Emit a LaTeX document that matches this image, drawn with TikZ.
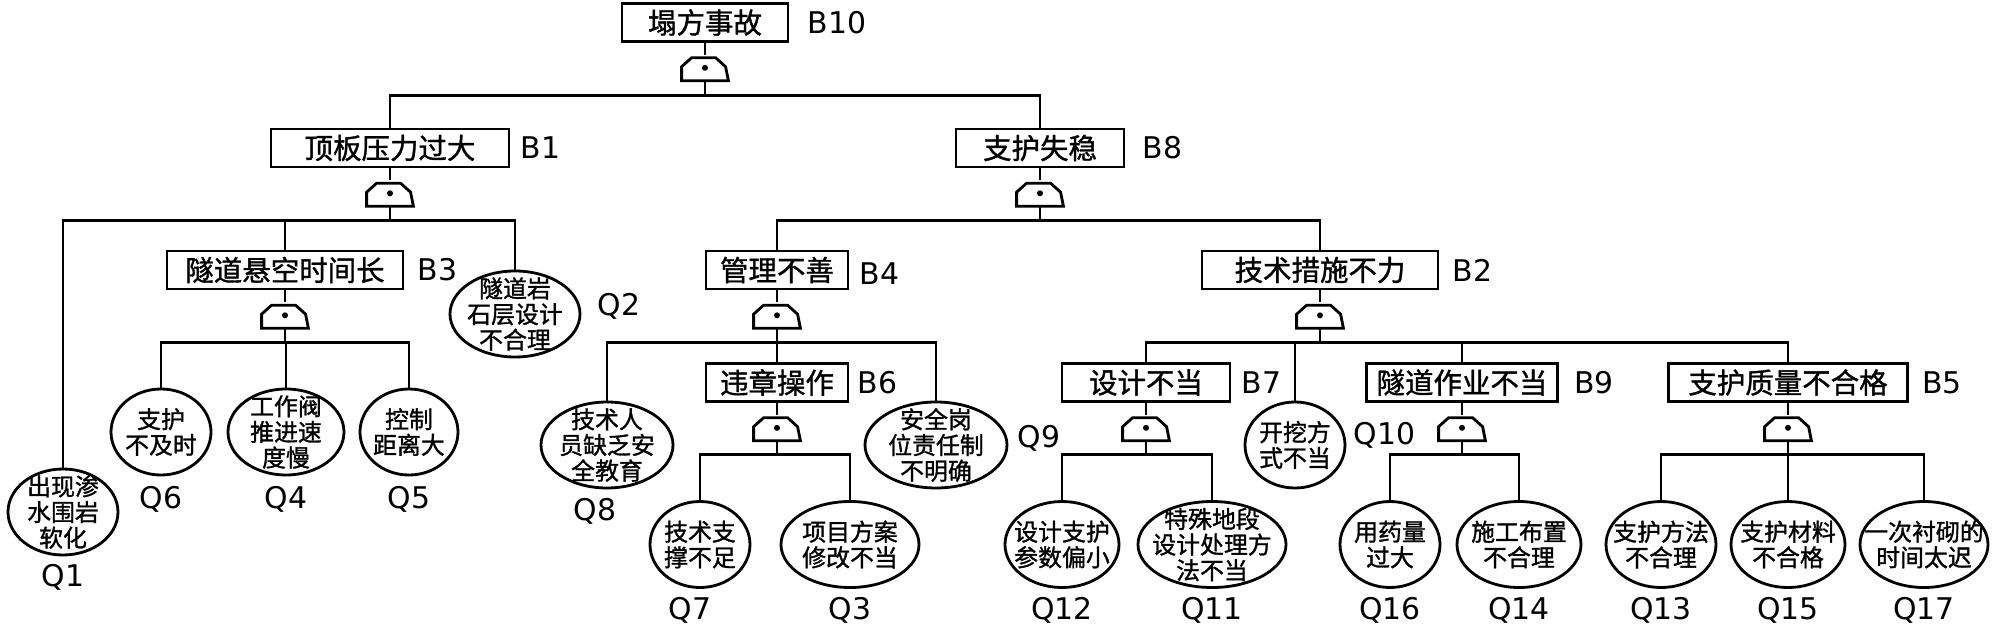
\documentclass[tikz,border=0pt]{standalone}
\usepackage{fontspec}
\setmainfont{DejaVu Sans}
\newfontfamily\cjk{Noto Sans CJK SC}[FakeBold=1.2]
\usetikzlibrary{%
  shapes,% wg. ellipse
  positioning% wg. " of "
}

\tikzset{
  evbox/.style={draw, rectangle, minimum height=0.38cm, inner sep=0pt,
    font=\cjk\fontsize{8.1}{9}\selectfont},
  basic/.style={draw, ellipse, minimum height=0.86cm, inner sep=0pt},
  ctext/.style={inner sep=0pt, align=center,
    font=\cjk\fontsize{6.8}{7.3}\selectfont},
  tag/.style={inner sep=0pt, font=\fontsize{8.5}{10}\selectfont},
  gatenode/.style={minimum width=0.44cm, minimum height=0.23cm, inner sep=0pt}
}

% and-gate below an event box
\newcommand{\andgate}[2]{%
  \node[gatenode, below=0.12cm of #2] (#1) {};
  \draw (#1.south west) -- ++(0,0.14) -- ++(0.1,0.09) -- ++(0.24,0)
    -- ++(0.1,-0.09) -- (#1.south east) -- cycle;
  \fill (#1) circle (0.03);
}

\begin{document}
\begin{tikzpicture}[thick]
\useasboundingbox (0,0) rectangle (20,-6.32);

% -------- top event
\node[evbox, minimum width=1.66cm] (top) at (7.05,-0.225) {塌方事故};
\node[tag, right=0.17cm of top] (ltop) {B10};
\andgate{g10}{top}
\draw (top.south) -- (g10.north);

% -------- level 1
\node[evbox, minimum width=2.38cm] (b1) at (3.90,-1.48) {顶板压力过大};
\node[tag, right=0.09cm of b1] (lb1) {B1};
\node[evbox, minimum width=1.68cm] (b8) at (10.40,-1.48) {支护失稳};
\node[tag, right=0.16cm of b8] (lb8) {B8};
\draw (g10.south) -- ++(0,-0.15) -| (b1.north);
\draw (g10.south) -- ++(0,-0.15) -| (b8.north);

\andgate{g1}{b1}
\andgate{g8}{b8}
\draw (b1.south) -- (g1.north);
\draw (b8.south) -- (g8.north);

% -------- under B1
\node[evbox, minimum width=2.36cm] (b3) at (2.85,-2.70) {隧道悬空时间长};
\node[tag, right=0.12cm of b3] (lb3) {B3};

\node[basic, minimum width=1.10cm] (q1) at (0.63,-5.12) {};
\node[ctext] (q1txt) at (q1) {出现渗\\水围岩\\软化};
\node[tag, below=0.07cm of q1] (q1lab) {Q1};

\node[basic, minimum width=1.30cm] (q2) at (5.15,-3.14) {};
\node[ctext] (q2txt) at (q2) {隧道岩\\石层设计\\不合理};
\node[tag, right=0.15cm of q2, yshift=0.08cm] (q2lab) {Q2};

\draw (g1.south) -- ++(0,-0.14) -| (q1.north);
\draw (g1.south) -- ++(0,-0.14) -| (b3.north);
\draw (g1.south) -- ++(0,-0.14) -| (q2.north);

% -------- under B3
\andgate{g3}{b3}
\draw (b3.south) -- (g3.north);

\node[basic, minimum width=1.00cm] (q6) at (1.61,-4.32) {};
\node[ctext] (q6txt) at (q6) {支护\\不及时};
\node[tag, below=0.09cm of q6] (q6lab) {Q6};

\node[basic, minimum width=1.16cm] (q4) at (2.86,-4.32) {};
\node[ctext] (q4txt) at (q4) {工作阀\\推进速\\度慢};
\node[tag, below=0.09cm of q4] (q4lab) {Q4};

\node[basic, minimum width=0.98cm] (q5) at (4.09,-4.32) {};
\node[ctext] (q5txt) at (q5) {控制\\距离大};
\node[tag, below=0.09cm of q5] (q5lab) {Q5};

\draw (g3.south) -- ++(0,-0.14) -| (q6.north);
\draw (g3.south) -- ++(0,-0.14) -| (q4.north);
\draw (g3.south) -- ++(0,-0.14) -| (q5.north);

% -------- under B8
\node[evbox, minimum width=1.42cm] (b4) at (7.77,-2.70) {管理不善};
\node[tag, right=0.09cm of b4, yshift=-0.04cm] (lb4) {B4};
\node[evbox, minimum width=2.36cm] (b2) at (13.20,-2.70) {技术措施不力};
\node[tag, right=0.12cm of b2] (lb2) {B2};
\draw (g8.south) -- ++(0,-0.14) -| (b4.north);
\draw (g8.south) -- ++(0,-0.14) -| (b2.north);

% -------- under B4
\andgate{g4}{b4}
\draw (b4.south) -- (g4.north);

\node[basic, minimum width=1.32cm] (q8) at (6.07,-4.45) {};
\node[ctext] (q8txt) at (q8) {技术人\\员缺乏安\\全教育};
\node[tag, below=0.08cm of q8, xshift=-0.12cm] (q8lab) {Q8};

\node[evbox, minimum width=1.42cm] (b6) at (7.77,-3.825) {违章操作};
\node[tag, right=0.07cm of b6] (lb6) {B6};

\node[basic, minimum width=1.42cm] (q9) at (9.36,-4.45) {};
\node[ctext] (q9txt) at (q9) {安全岗\\位责任制\\不明确};
\node[tag, right=0.08cm of q9, yshift=0.07cm] (q9lab) {Q9};

\draw (g4.south) -- ++(0,-0.14) -| (q8.north);
\draw (g4.south) -- ++(0,-0.14) -| (b6.north);
\draw (g4.south) -- ++(0,-0.14) -| (q9.north);

% -------- under B6
\andgate{g6}{b6}
\draw (b6.south) -- (g6.north);

\node[basic, minimum width=1.00cm] (q7) at (7.00,-5.445) {};
\node[ctext] (q7txt) at (q7) {技术支\\撑不足};
\node[tag, below=0.07cm of q7, xshift=-0.1cm] (q7lab) {Q7};

\node[basic, minimum width=1.38cm] (q3) at (8.50,-5.445) {};
\node[ctext] (q3txt) at (q3) {项目方案\\修改不当};
\node[tag, below=0.07cm of q3] (q3lab) {Q3};

\draw (g6.south) -- ++(0,-0.14) -| (q7.north);
\draw (g6.south) -- ++(0,-0.14) -| (q3.north);

% -------- under B2
\andgate{g2}{b2}
\draw (b2.south) -- (g2.north);

\node[evbox, minimum width=1.68cm] (b7) at (11.46,-3.825) {设计不当};
\node[tag, right=0.09cm of b7] (lb7) {B7};

\node[basic, minimum width=1.00cm] (q10) at (12.95,-4.45) {};
\node[ctext] (q10txt) at (q10) {开挖方\\式不当};
\node[tag, right=0.06cm of q10, yshift=0.1cm] (q10lab) {Q10};

\node[evbox, minimum width=1.91cm] (b9) at (14.62,-3.825) {隧道作业不当};
\node[tag, right=0.14cm of b9] (lb9) {B9};

\node[evbox, minimum width=2.39cm] (b5) at (17.88,-3.825) {支护质量不合格};
\node[tag, right=0.12cm of b5] (lb5) {B5};

\draw (g2.south) -- ++(0,-0.14) -| (b7.north);
\draw (g2.south) -- ++(0,-0.14) -| (q10.north);
\draw (g2.south) -- ++(0,-0.14) -| (b9.north);
\draw (g2.south) -- ++(0,-0.14) -| (b5.north);

% -------- under B7
\andgate{g7}{b7}
\draw (b7.south) -- (g7.north);

\node[basic, minimum width=1.14cm] (q12) at (10.62,-5.445) {};
\node[ctext] (q12txt) at (q12) {设计支护\\参数偏小};
\node[tag, below=0.07cm of q12] (q12lab) {Q12};

\node[basic, minimum width=1.48cm] (q11) at (12.12,-5.445) {};
\node[ctext] (q11txt) at (q11) {特殊地段\\设计处理方\\法不当};
\node[tag, below=0.07cm of q11] (q11lab) {Q11};

\draw (g7.south) -- ++(0,-0.14) -| (q12.north);
\draw (g7.south) -- ++(0,-0.14) -| (q11.north);

% -------- under B9
\andgate{g9}{b9}
\draw (b9.south) -- (g9.north);

\node[basic, minimum width=1.00cm] (q16) at (13.90,-5.445) {};
\node[ctext] (q16txt) at (q16) {用药量\\过大};
\node[tag, below=0.07cm of q16] (q16lab) {Q16};

\node[basic, minimum width=1.24cm] (q14) at (15.19,-5.445) {};
\node[ctext] (q14txt) at (q14) {施工布置\\不合理};
\node[tag, below=0.07cm of q14] (q14lab) {Q14};

\draw (g9.south) -- ++(0,-0.14) -| (q16.north);
\draw (g9.south) -- ++(0,-0.14) -| (q14.north);

% -------- under B5
\andgate{g5}{b5}
\draw (b5.south) -- (g5.north);

\node[basic, minimum width=1.10cm] (q13) at (16.61,-5.445) {};
\node[ctext] (q13txt) at (q13) {支护方法\\不合理};
\node[tag, below=0.07cm of q13] (q13lab) {Q13};

\node[basic, minimum width=1.14cm] (q15) at (17.88,-5.445) {};
\node[ctext] (q15txt) at (q15) {支护材料\\不合格};
\node[tag, below=0.07cm of q15] (q15lab) {Q15};

\node[basic, minimum width=1.28cm] (q17) at (19.24,-5.445) {};
\node[ctext] (q17txt) at (q17) {一次衬砌的\\时间太迟};
\node[tag, below=0.07cm of q17] (q17lab) {Q17};

\draw (g5.south) -- ++(0,-0.14) -| (q13.north);
\draw (g5.south) -- ++(0,-0.14) -| (q15.north);
\draw (g5.south) -- ++(0,-0.14) -| (q17.north);

\end{tikzpicture}
\end{document}
